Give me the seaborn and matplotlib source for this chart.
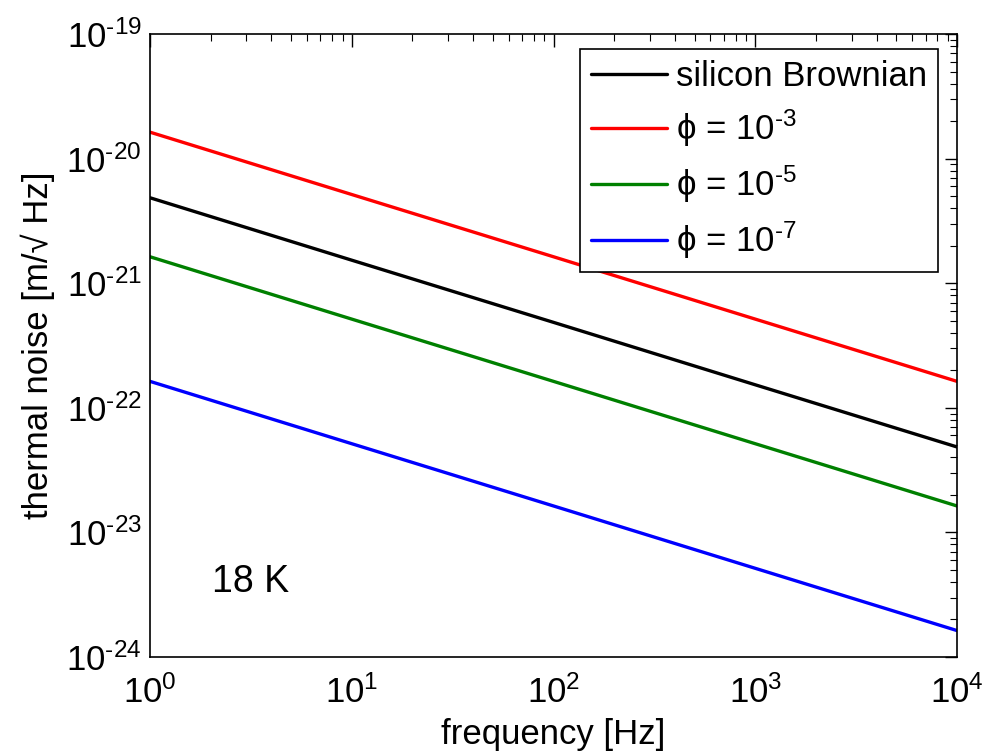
import numpy as np
import pandas as pd
import matplotlib
matplotlib.use("Agg")
import matplotlib.pyplot as plt
import matplotlib.ticker as mticker
import seaborn as sns

# ---- data ----
frequency = [1, 10, 100, 1000, 10000]
silicon_brownian = [4.85e-21, 1.53e-21, 4.85e-22, 1.53e-22, 4.85e-23]
phi_1e3 = [1.63e-20, 5.15e-21, 1.63e-21, 5.15e-22, 1.63e-22]
phi_1e5 = [1.63e-21, 5.15e-22, 1.63e-22, 5.15e-23, 1.63e-23]
phi_1e7 = [1.63e-22, 5.15e-23, 1.63e-23, 5.15e-24, 1.63e-24]
series_names = ["silicon Brownian",
                "\u03d5 = 10$^{\\mathrm{\\text{-3}}}$",
                "\u03d5 = 10$^{\\mathrm{\\text{-5}}}$",
                "\u03d5 = 10$^{\\mathrm{\\text{-7}}}$"]
series_colors = ["#000000", "#FF0000", "#008000", "#0000FF"]
x_ticks = [1, 10, 100, 1000, 10000]
y_ticks = [1e-24, 1e-23, 1e-22, 1e-21, 1e-20, 1e-19]

frames = []
for name, vals in zip(series_names, [silicon_brownian, phi_1e3, phi_1e5, phi_1e7]):
    frames.append(pd.DataFrame({"frequency": frequency, "noise": vals, "series": name}))
df = pd.concat(frames, ignore_index=True)

sns.set_theme(style="white")
plt.rcParams["font.family"] = ["Liberation Sans", "DejaVu Sans"]
plt.rcParams["mathtext.fontset"] = "custom"
plt.rcParams["mathtext.rm"] = "Liberation Sans"
plt.rcParams["mathtext.it"] = "Liberation Sans:italic"
plt.rcParams["mathtext.bf"] = "Liberation Sans:bold"
plt.rcParams["axes.unicode_minus"] = False
plt.rcParams["text.color"] = "black"
plt.rcParams["axes.labelcolor"] = "black"
plt.rcParams["xtick.color"] = "black"
plt.rcParams["ytick.color"] = "black"

fig = plt.figure(figsize=(9.96, 7.55), dpi=100)
ax = fig.add_axes([150 / 996, 1 - 657 / 755, (957 - 150) / 996, (657 - 34) / 755])

sns.lineplot(data=df, x="frequency", y="noise", hue="series", hue_order=series_names,
             palette=dict(zip(series_names, series_colors)), linewidth=2.4, ax=ax)

ax.set_xscale("log")
ax.set_yscale("log")
ax.set_xlim(1, 1e4)
ax.set_ylim(1e-24, 1e-19)


def exp_label(v, pos):
    e = int(round(np.log10(v)))
    return r"$\mathrm{10^{\text{%d}}}$" % e


ax.xaxis.set_major_locator(mticker.FixedLocator(x_ticks))
ax.yaxis.set_major_locator(mticker.FixedLocator(y_ticks))
ax.xaxis.set_major_formatter(mticker.FuncFormatter(exp_label))
ax.yaxis.set_major_formatter(mticker.FuncFormatter(exp_label))
ax.xaxis.set_minor_locator(mticker.LogLocator(base=10, subs=np.arange(2, 10), numticks=20))
ax.yaxis.set_minor_locator(mticker.LogLocator(base=10, subs=np.arange(2, 10), numticks=20))
ax.yaxis.set_minor_formatter(mticker.NullFormatter())
ax.xaxis.set_minor_formatter(mticker.NullFormatter())

ax.tick_params(which="both", direction="in", top=True, right=True, colors="black",
               labelcolor="black", labelsize=25)
ax.tick_params(which="major", length=9, width=1.0)
ax.tick_params(which="minor", length=5, width=0.8)
ax.tick_params(axis="x", which="major", pad=13)
ax.tick_params(axis="y", which="major", pad=6)

for sp in ax.spines.values():
    sp.set_color("black")
    sp.set_linewidth(1.2)
    sp.set_visible(True)

ax.set_xlabel("frequency [Hz]", fontsize=25, color="black", labelpad=6)
ax.set_ylabel("thermal noise [m/\u221a Hz]", fontsize=25, color="black")
ax.yaxis.set_label_coords(-0.118, 0.5)

ax.text(0.124, 0.12, "18 K", transform=ax.transAxes, fontsize=27, color="black",
        ha="center", va="center")

handles, labels = ax.get_legend_handles_labels()
leg = ax.legend(handles, labels, loc="upper right", bbox_to_anchor=(0.9765, 0.976),
                borderaxespad=0, fontsize=25, frameon=True, fancybox=False,
                edgecolor="black", framealpha=1, handlelength=2.2, handletextpad=0.25,
                labelspacing=0.42, borderpad=0.32, labelcolor="black")
leg.get_frame().set_linewidth(1.2)
for line in leg.get_lines():
    line.set_linewidth(2.4)

fig.savefig("out.png", dpi=100, facecolor="white")
